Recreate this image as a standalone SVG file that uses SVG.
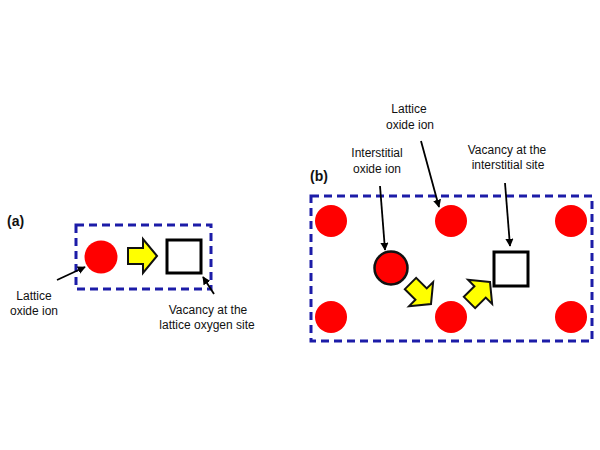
<svg xmlns="http://www.w3.org/2000/svg" width="600" height="450" viewBox="0 0 600 450">
<defs>
<style>
.lbl{font-family:"Liberation Sans",Arial,sans-serif;font-size:12px;fill:#111;text-anchor:middle}
.ttl{font-family:"Liberation Sans",Arial,sans-serif;font-size:14px;font-weight:bold;fill:#111}
.box{fill:none;stroke:#1c1ca8;stroke-width:3;stroke-dasharray:8 5}
.ion{fill:#ff0000}
.iion{fill:#ff0000;stroke:#111;stroke-width:2.5}
.vac{fill:#fff;stroke:#000;stroke-width:3}
.mv{fill:#ffff00;stroke:#111;stroke-width:2;stroke-linejoin:miter}
.lead{stroke:#000;stroke-width:1.8;fill:none}
</style>
<marker id="ah" viewBox="0 0 10 10" refX="9" refY="5" markerWidth="4.5" markerHeight="4.5" orient="auto" markerUnits="strokeWidth">
<path d="M0,0 L10,5 L0,10 z" fill="#000"/>
</marker>
<path id="arr" d="M0,0 L-14,-17 L-14,-8 L-29,-8 L-29,8 L-14,8 L-14,17 Z"/>
</defs>
<rect width="600" height="450" fill="#fff"/>

<g id="panel-a">
<text class="ttl" x="7" y="226">(a)</text>
<rect class="box" x="76" y="225" width="135" height="64"/>
<g id="a-ion"><circle class="ion" cx="101" cy="257" r="16.5"/></g>
<g id="a-move"><use href="#arr" class="mv" transform="translate(157,256)"/></g>
<g id="a-vacancy"><rect class="vac" x="167" y="240" width="34" height="33"/></g>
<g id="a-label-ion"><text class="lbl" x="34" y="300">Lattice</text><text class="lbl" x="34" y="315">oxide ion</text></g>
<g id="a-label-vac"><text class="lbl" x="208" y="314">Vacancy at the</text><text class="lbl" x="207" y="329">lattice oxygen site</text></g>
</g>

<g id="panel-b">
<text class="ttl" x="310" y="181">(b)</text>
<rect class="box" x="311" y="196" width="281" height="145"/>
<g id="b-ion-1"><circle class="ion" cx="331" cy="221" r="16"/></g>
<g id="b-ion-2"><circle class="ion" cx="451" cy="221" r="16"/></g>
<g id="b-ion-3"><circle class="ion" cx="571" cy="221" r="16"/></g>
<g id="b-ion-4"><circle class="ion" cx="331" cy="317" r="16"/></g>
<g id="b-ion-5"><circle class="ion" cx="451" cy="317" r="16"/></g>
<g id="b-ion-6"><circle class="ion" cx="571" cy="317" r="16"/></g>
<g id="b-interstitial"><circle class="iion" cx="391" cy="268" r="16.5"/></g>
<g id="b-vacancy"><rect class="vac" x="494" y="252" width="34" height="34"/></g>
<g id="b-move-1"><use href="#arr" class="mv" transform="translate(431,304) rotate(45)"/></g>
<g id="b-move-2"><use href="#arr" class="mv" transform="translate(490,282) rotate(-45)"/></g>
<g id="b-label-lat"><text class="lbl" x="409" y="113">Lattice</text><text class="lbl" x="410" y="129">oxide ion</text></g>
<g id="b-label-int"><text class="lbl" x="377" y="157">Interstitial</text><text class="lbl" x="377" y="173">oxide ion</text></g>
<g id="b-label-vac"><text class="lbl" x="507" y="154">Vacancy at the</text><text class="lbl" x="508" y="169">interstitial site</text></g>
</g>

<g id="connectors">
<line class="lead" x1="57" y1="280" x2="85" y2="267" marker-end="url(#ah)"/>
<line class="lead" x1="214" y1="294" x2="203" y2="277" marker-end="url(#ah)"/>
<line class="lead" x1="380" y1="186" x2="385" y2="250" marker-end="url(#ah)"/>
<line class="lead" x1="421" y1="141" x2="439" y2="207" marker-end="url(#ah)"/>
<line class="lead" x1="505" y1="183" x2="510" y2="246" marker-end="url(#ah)"/>
</g>
</svg>
